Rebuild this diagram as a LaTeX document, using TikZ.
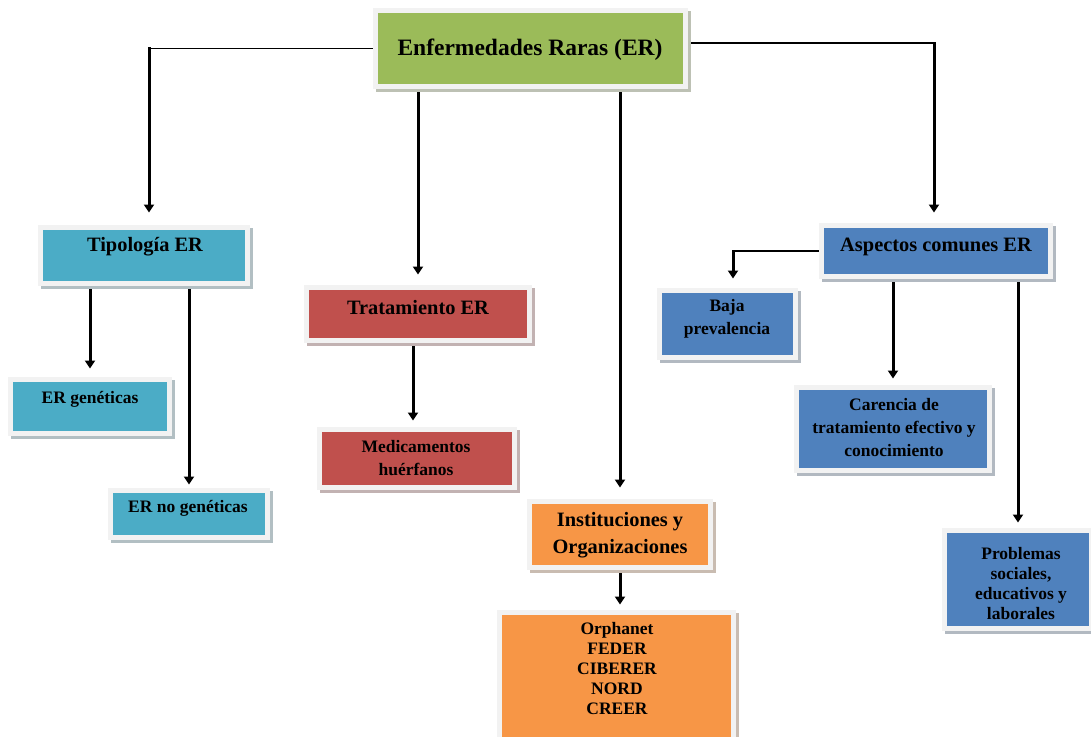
\documentclass[tikz,border=0pt]{standalone}
\usepackage{fontspec}
\setmainfont{Liberation Serif}
\usetikzlibrary{arrows.meta,calc,backgrounds}
\definecolor{cgreen}{HTML}{9BBB59}
\definecolor{cteal}{HTML}{4BACC6}
\definecolor{cred}{HTML}{C0504D}
\definecolor{corange}{HTML}{F79646}
\definecolor{cblue}{HTML}{4F81BD}
\definecolor{bdr}{HTML}{F2F2F2}
\tikzset{
  box/.style={rectangle, fill=#1, draw=bdr, line width=5pt, inner sep=0pt,
    preaction={draw=#1!25!gray!55!white, fill=#1!25!gray!55!white, line width=5pt,
      transform canvas={xshift=2.5pt,yshift=-2.5pt}}},
  tA/.style={font=\fontsize{23.5}{28}\selectfont\bfseries, align=center, inner sep=0pt},
  tB/.style={font=\fontsize{20.4}{27}\selectfont\bfseries, align=center, inner sep=0pt},
  tC/.style={font=\fontsize{17.5}{20}\selectfont\bfseries, align=center, inner sep=0pt},
  tCw/.style={font=\fontsize{17.5}{23}\selectfont\bfseries, align=center, inner sep=0pt},
  arr/.style={line width=3pt, line cap=rect, -{Triangle[width=10pt,length=8pt]}},
  hline/.style={line width=1.5pt},
}
\begin{document}
\begin{tikzpicture}[x=1pt,y=-1pt]
\useasboundingbox (0,0) rectangle (1091,736);
\clip (0,0) rectangle (1091,736);
% boxes
\node[box=cgreen, minimum width=310pt, minimum height=76pt] (er) at (530.5,48.5) {};
\node[box=cteal, minimum width=207pt, minimum height=56pt] (tip) at (144,255.5) {};
\node[box=cteal, minimum width=159pt, minimum height=54pt] (gen) at (90,406.5) {};
\node[box=cteal, minimum width=157pt, minimum height=47pt] (ngen) at (189,514) {};
\node[box=cred, minimum width=223pt, minimum height=53pt] (trt) at (418,314) {};
\node[box=cred, minimum width=195pt, minimum height=58pt] (med) at (417,458.5) {};
\node[box=corange, minimum width=181pt, minimum height=66pt] (inst) at (620,534.5) {};
\node[box=corange, minimum width=234pt, minimum height=135pt] (orph) at (616.5,680) {};
\node[box=cblue, minimum width=229pt, minimum height=51pt] (asp) at (936,251) {};
\node[box=cblue, minimum width=136pt, minimum height=67pt] (baja) at (727.5,324) {};
\node[box=cblue, minimum width=193pt, minimum height=83pt] (car) at (893,429) {};
\node[box=cblue, minimum width=147pt, minimum height=98pt] (prob) at (1018,579.5) {};
% texts
\node[tA] (ert) at (530,50) {Enfermedades Raras (ER)};
\node[tB] (tipt) at (145,247) {Tipología ER};
\node[tC] (gent) at (90,399) {ER genéticas};
\node[tC] (ngent) at (188,508) {ER no genéticas};
\node[tB] (trtt) at (418,308) {Tratamiento ER};
\node[tCw] (medt) at (416,458) {Medicamentos\\huérfanos};
\node[tB] (instt) at (620,535) {Instituciones y\\Organizaciones};
\node[tC] (orpht) at (617,669) {Orphanet\\FEDER\\CIBERER\\NORD\\CREER};
\node[tB] (aspt) at (936,247) {Aspectos comunes ER};
\node[tCw] (bajat) at (727,319) {Baja\\prevalencia};
\node[tCw] (cart) at (894,428) {Carencia de\\tratamiento efectivo y\\conocimiento};
\node[tC] (probt) at (1021,584) {Problemas\\sociales,\\educativos y\\laborales};
% elbow corners
\coordinate (ktip) at ([xshift=5pt]tip.north);
\coordinate (kasp) at ([xshift=-2pt]asp.north);
\coordinate (kbaja) at ([xshift=5.5pt]baja.north);
\coordinate (kerr) at ([yshift=5.5pt]er.east);
% connectors
\begin{scope}[on background layer]
\fill[white] (0,0) rectangle (1091,736);
\draw[hline] (er.west) -- (er.west -| ktip);
\draw[arr, shorten >=12.5pt] (er.west -| ktip) -- (ktip);
\draw[arr, shorten >=10.5pt] (er.south -| trt.north) -- (trt.north);
\draw[arr, shorten >=11.5pt] (er.south -| inst.north) -- (inst.north);
\draw[hline] (kerr) -- (kerr -| kasp);
\draw[arr, shorten >=10.5pt] (kerr -| kasp) -- (kasp);
\draw[arr, shorten >=8.5pt] (tip.south -| gen.north) -- (gen.north);
\draw[arr, shorten >=3.5pt] (tip.south -| ngen.north) -- (ngen.north);
\draw[arr, shorten >=6.5pt] ([xshift=-4pt]trt.south -| med.north) -- ([xshift=-4pt]med.north);
\draw[arr, shorten >=5.5pt] (inst.south) -- (inst.south |- orph.north);
\draw[hline] (asp.west) -- (asp.west -| kbaja);
\draw[arr, shorten >=9.5pt] (asp.west -| kbaja) -- (kbaja);
\draw[arr, shorten >=6.5pt] (asp.south -| car.north) -- (car.north);
\draw[arr, shorten >=5.5pt] (asp.south -| prob.north) -- (prob.north);
\end{scope}
\end{tikzpicture}
\end{document}
